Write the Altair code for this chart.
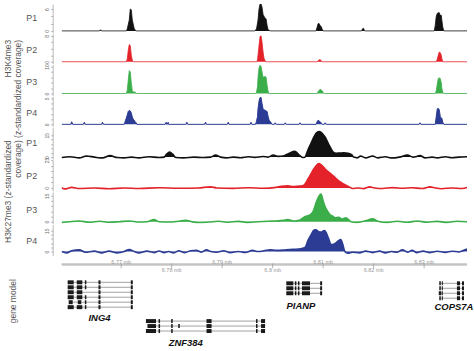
import altair as alt
import pandas as pd

FONT = "Liberation Sans"
X_DOMAIN = [6758.2, 6838.5]   # genomic window shown, in kb
PLOT_W = 408

# ---------------- coverage tracks: (position kb, z-standardized coverage) ----------------
K4_P1 = [(6758.2, 0), (6765.7, 0), (6765.9, 0.3), (6766.1, 0), (6771.0, 0), (6771.2, 0.5), (6771.6, 3),
         (6771.8, 6), (6772.0, 5.8), (6772.2, 3), (6772.6, 0.5), (6773.0, 0), (6796.4, 0), (6796.8, 0.5),
         (6797.1, 3), (6797.3, 6), (6797.5, 7.4), (6797.7, 7.4), (6797.9, 6.5), (6798.1, 4.5), (6798.3, 4),
         (6798.5, 3.5), (6798.7, 3.3), (6798.9, 1.5), (6799.1, 0.3), (6799.5, 0), (6808.6, 0), (6808.8, 1),
         (6809.0, 2), (6809.2, 2), (6809.4, 1.5), (6809.6, 1.2), (6809.8, 0.5), (6810.0, 0), (6817.6, 0),
         (6817.8, 0.6), (6818.0, 0.7), (6818.2, 0), (6832.0, 0), (6832.2, 1.5), (6832.4, 4), (6832.6, 4.8),
         (6832.8, 5), (6833.0, 5), (6833.2, 4.2), (6833.4, 4.3), (6833.5, 3), (6833.7, 1), (6833.9, 0),
         (6838.5, 0)]
K4_P2 = [(6758.2, 0), (6771.0, 0), (6771.2, 0.8), (6771.4, 3.5), (6771.6, 5.3), (6771.8, 5), (6772.0, 2),
         (6772.2, 0.5), (6772.4, 0), (6796.8, 0), (6797.0, 0.5), (6797.1, 2), (6797.3, 5), (6797.5, 7.8),
         (6797.7, 8), (6797.9, 6), (6798.1, 3), (6798.3, 1), (6798.5, 0.3), (6798.7, 0), (6808.8, 0),
         (6809.0, 0.3), (6809.2, 0.6), (6809.4, 0.6), (6809.6, 0.4), (6809.8, 0), (6832.4, 0), (6832.6, 0.8),
         (6832.8, 2), (6833.0, 3), (6833.2, 2.8), (6833.4, 2), (6833.5, 1), (6833.7, 0), (6838.5, 0)]
K4_P3 = [(6758.2, 0), (6771.0, 0), (6771.2, 1), (6771.4, 5), (6771.6, 8.5), (6771.8, 8), (6772.0, 4),
         (6772.2, 1), (6772.4, 0.6), (6772.8, 0.5), (6773.0, 0), (6796.6, 0), (6796.8, 0.5), (6797.0, 2.5),
         (6797.1, 6), (6797.3, 9.5), (6797.5, 10.5), (6797.7, 10), (6797.9, 8), (6798.1, 6), (6798.3, 6.2),
         (6798.5, 6.3), (6798.7, 6), (6798.9, 3), (6799.1, 0.8), (6799.3, 0), (6808.8, 0), (6809.0, 0.7),
         (6809.2, 1.2), (6809.4, 1.5), (6809.6, 1.4), (6809.8, 1), (6810.0, 0.4), (6810.2, 0), (6832.2, 0),
         (6832.4, 1), (6832.6, 3.5), (6832.8, 5.5), (6833.0, 5.9), (6833.2, 5.5), (6833.4, 4), (6833.5, 2),
         (6833.7, 0.5), (6833.9, 0), (6838.5, 0)]
K4_P4 = [(6758.2, 0), (6760.0, 0), (6760.2, 0.5), (6760.4, 0), (6762.5, 0), (6762.7, 0.4), (6762.9, 0),
         (6766.1, 0), (6766.3, 0.4), (6766.5, 0), (6770.6, 0), (6770.8, 0.6), (6771.0, 1.2), (6771.2, 1.8),
         (6771.4, 2.5), (6771.6, 2.7), (6771.8, 2.6), (6772.0, 2.2), (6772.2, 1.4), (6772.4, 1), (6772.6, 0.8),
         (6772.8, 0.4), (6773.0, 0.3), (6773.1, 0), (6778.7, 0), (6778.9, 0.4), (6779.1, 0), (6779.3, 0.4),
         (6779.4, 0), (6782.8, 0), (6783.0, 0.4), (6783.2, 0), (6786.5, 0), (6786.7, 0.4), (6786.9, 0),
         (6791.0, 0), (6791.2, 0.4), (6791.4, 0), (6795.5, 0), (6795.7, 0.4), (6795.9, 0), (6796.6, 0),
         (6796.8, 0.6), (6797.0, 1.5), (6797.1, 3), (6797.3, 4.5), (6797.5, 5.2), (6797.7, 5.2), (6797.9, 4),
         (6798.1, 3), (6798.3, 2.8), (6798.5, 2.7), (6798.7, 2.6), (6798.9, 2.5), (6799.1, 1.5), (6799.3, 0.8),
         (6799.5, 0.6), (6799.7, 0.3), (6799.9, 0), (6800.3, 0), (6800.5, 0.3), (6800.7, 0), (6802.3, 0),
         (6802.5, 0.3), (6802.7, 0), (6805.2, 0), (6805.4, 0.3), (6805.6, 0), (6808.6, 0), (6808.8, 0.5),
         (6809.0, 0.8), (6809.2, 0.7), (6809.4, 0.5), (6809.6, 0.3), (6809.8, 0), (6810.2, 0), (6810.4, 0.3),
         (6810.6, 0), (6829.0, 0), (6829.2, 0.3), (6829.4, 0), (6832.2, 0), (6832.4, 1.5), (6832.6, 3),
         (6832.8, 3.1), (6833.0, 2.8), (6833.2, 1.5), (6833.4, 1.2), (6833.5, 1.2), (6833.7, 0.4), (6833.9, 0),
         (6838.5, 0)]

K27_P1 = [(6758.2, -0.3), (6759.8, 0.3), (6761.7, -0.5), (6763.1, 0.8), (6764.7, 0), (6766.3, -0.6),
          (6767.8, 1.0), (6769.2, -0.3), (6770.6, -0.6), (6772.0, 0), (6773.5, -0.5), (6775.5, 0.3),
          (6777.5, -0.3), (6778.5, 0), (6779.0, 2), (6779.6, 3.4), (6780.2, 2), (6780.8, -0.3), (6782.4, -0.5),
          (6784.4, 0), (6786.3, -0.3), (6787.7, 0), (6788.7, 1.4), (6789.7, 0), (6790.9, -0.5), (6792.2, 0),
          (6793.6, -0.4), (6795.2, 0.3), (6796.4, -0.2), (6798.1, 0.4), (6799.1, 0), (6800.1, 1.4),
          (6801.1, 0.5), (6802.1, 0.8), (6803.2, 2.5), (6804.4, 4), (6805.4, 1), (6806.0, -0.3), (6806.4, 0),
          (6807.0, 5), (6807.6, 9.5), (6808.2, 14), (6808.6, 16.3), (6809.2, 17.5), (6809.6, 17), (6810.0, 15.5),
          (6810.4, 13.6), (6811.0, 9.5), (6811.4, 6.8), (6812.0, 3.4), (6812.6, 2.7), (6813.3, 2.8),
          (6814.1, 2.9), (6814.9, 2.6), (6815.7, 1.5), (6816.0, 0), (6816.8, -0.5), (6817.4, 0.8),
          (6818.4, -0.5), (6819.8, 0.8), (6820.8, -0.5), (6822.3, 0.2), (6823.7, -0.6), (6825.1, 0),
          (6826.7, 1.4), (6827.8, 0), (6829.2, 1), (6830.2, -0.5), (6831.6, 0), (6832.6, -0.6), (6834.2, 0.3),
          (6835.5, -0.4), (6836.9, 0), (6838.5, 0.2)]
K27_P2 = [(6758.2, 0.3), (6758.8, -1), (6760.2, 0.5), (6761.7, -0.5), (6764.7, 0), (6767.6, -0.8),
          (6770.6, 0), (6773.5, -0.5), (6777.5, 0.2), (6781.4, -0.3), (6785.3, 0), (6787.7, 1), (6788.9, 0),
          (6792.2, -0.4), (6795.2, 0.2), (6798.1, -0.3), (6800.7, 0.5), (6801.7, 1.5), (6803.0, 1.8),
          (6804.2, 1.2), (6805.4, 1.6), (6806.2, 2.5), (6807.0, 8), (6808.0, 16), (6808.6, 20), (6809.2, 22),
          (6809.8, 20), (6810.4, 17), (6811.4, 13), (6812.2, 10), (6812.9, 7), (6813.7, 4.5), (6814.5, 2.5),
          (6815.3, 0.5), (6815.8, -0.5), (6816.8, 0), (6818.0, -0.6), (6819.2, 1), (6820.2, 0), (6821.8, -0.5),
          (6823.7, 0.3), (6825.7, -0.3), (6827.6, 0.2), (6829.6, -0.5), (6831.2, 1), (6832.2, 0),
          (6833.5, -0.7), (6835.5, 0), (6837.5, -0.5), (6838.5, 0.3)]
K27_P3 = [(6758.2, -0.5), (6759.8, 0), (6761.7, 0.4), (6763.7, -0.3), (6765.7, 0.3), (6767.6, -0.3),
          (6769.6, 0), (6771.6, 0.4), (6773.5, -0.2), (6775.1, 0), (6776.5, 1.2), (6777.5, 0), (6779.4, -0.2),
          (6781.4, 0.3), (6782.8, 0.8), (6784.0, 0), (6785.3, -0.5), (6787.3, -0.2), (6789.3, 0.3),
          (6791.2, -0.3), (6793.2, 0.2), (6795.2, -0.4), (6797.1, 0), (6799.1, 0.3), (6801.1, 0.5),
          (6802.1, 0.8), (6803.0, 1.2), (6804.2, 0.4), (6805.4, 1), (6806.4, 2.9), (6807.4, 4), (6808.0, 5.8),
          (6808.6, 11), (6809.2, 15), (6809.6, 16), (6810.0, 12), (6810.4, 8.7), (6811.0, 5.5), (6811.4, 4),
          (6812.0, 3), (6812.4, 2.3), (6813.1, 2.5), (6813.7, 1.6), (6814.5, 2.3), (6815.1, 1), (6815.5, 0),
          (6816.8, -0.4), (6818.4, 0.5), (6819.8, 1.7), (6820.8, 0.3), (6822.7, -0.4), (6824.7, 0.3),
          (6826.7, -0.3), (6828.6, 0.4), (6830.6, -0.3), (6832.6, 0.2), (6834.5, -0.4), (6836.5, 0.3),
          (6838.5, 0)]
K27_P4 = [(6758.2, 0), (6759.2, -1), (6760.2, 0.5), (6761.7, 1.2), (6762.9, -0.5), (6764.7, 0.3),
          (6766.1, -1), (6767.6, 0.3), (6769.2, -1), (6770.6, 0), (6771.6, 1.5), (6772.6, 0), (6773.5, -1),
          (6775.1, 0.3), (6776.5, -0.8), (6777.5, 0.4), (6778.5, -0.8), (6779.4, 0), (6780.4, -1),
          (6781.4, 0.5), (6782.6, -0.8), (6783.8, 0.6), (6784.9, 0.8), (6785.9, -0.5), (6786.9, 1.3),
          (6787.7, 0), (6788.9, -0.5), (6790.3, 0.5), (6791.6, -0.8), (6793.2, 0), (6794.6, -0.7),
          (6796.0, 0.8), (6797.1, 0), (6798.3, 0.5), (6799.5, 1.3), (6800.7, 0.8), (6802.1, 1), (6803.4, 1.5),
          (6804.6, 1.6), (6805.6, 2), (6806.4, 2.9), (6807.0, 8), (6807.6, 12), (6808.2, 15.5), (6808.6, 15.7),
          (6809.0, 14.5), (6809.6, 14), (6810.2, 15), (6810.6, 13.6), (6811.0, 10), (6811.6, 5), (6812.2, 5.5),
          (6812.6, 6.4), (6813.1, 8), (6813.5, 8.6), (6813.9, 5), (6814.3, 0), (6814.9, -1.2), (6815.8, -0.5),
          (6817.2, -1), (6818.4, 0.3), (6819.8, -0.8), (6821.2, 0.3), (6822.3, -1), (6823.5, 0), (6824.7, -0.5),
          (6825.7, 1.3), (6826.7, -0.5), (6827.6, 0.8), (6828.6, -0.8), (6829.8, 0.3), (6831.0, -0.8),
          (6832.6, 0.2), (6834.2, -0.6), (6835.5, 0.2), (6836.9, -0.3), (6838.1, 1.2), (6838.5, 1.8)]

# ---------------- genomic axis ----------------
AXIS_TICKS_KB = [6770, 6780, 6790, 6800, 6810, 6820, 6830]
AXIS_LABELS = ["6.77 mb", "6.78 mb", "6.79 mb", "6.8 mb", "6.81 mb", "6.82 mb", "6.83 mb"]
AXIS_ROWS = ["above", "below", "above", "below", "above", "below", "above"]

# ---------------- gene model: transcripts (gene, lane, exons[(start, end) kb]) ----------------
TRANSCRIPTS = [
    ("ING4", 0, [(6759.4, 6760.6), (6761.2, 6762.3), (6762.8, 6763.1), (6765.5, 6765.9), (6771.9, 6772.3)]),
    ("ING4", 1, [(6759.4, 6760.6), (6761.2, 6762.3), (6762.8, 6763.1), (6765.5, 6765.9), (6771.9, 6772.3)]),
    ("ING4", 2, [(6759.4, 6760.6), (6761.2, 6762.3), (6765.5, 6765.9), (6771.9, 6772.3)]),
    ("ING4", 3, [(6759.4, 6760.6), (6761.2, 6762.3), (6762.8, 6763.1), (6765.5, 6765.9), (6771.9, 6772.3)]),
    ("ING4", 4, [(6759.6, 6760.4), (6761.4, 6762.1), (6762.8, 6763.1), (6765.5, 6765.9), (6771.9, 6772.3)]),
    ("ING4", 5, [(6759.4, 6760.6), (6761.2, 6762.3), (6762.8, 6763.1), (6765.5, 6765.9), (6771.9, 6772.3)]),
    ("ZNF384", 7.8, [(6774.9, 6776.9), (6777.4, 6777.7), (6779.9, 6780.2), (6786.9, 6787.9), (6796.7, 6797.0),
                     (6797.7, 6798.5)]),
    ("ZNF384", 8.8, [(6775.2, 6776.9), (6777.4, 6777.7), (6779.9, 6780.2), (6781.3, 6781.6), (6786.9, 6787.9),
                     (6796.7, 6797.0), (6797.7, 6798.5)]),
    ("ZNF384", 9.8, [(6774.9, 6776.9), (6777.4, 6777.7), (6779.9, 6780.2), (6786.9, 6787.9), (6796.7, 6797.0),
                     (6797.7, 6798.5)]),
    ("PIANP", 0.2, [(6802.7, 6804.1), (6804.4, 6804.7), (6805.0, 6805.3), (6805.8, 6807.4), (6809.4, 6809.8)]),
    ("PIANP", 1.2, [(6802.7, 6804.1), (6804.4, 6804.7), (6805.0, 6805.3), (6805.8, 6807.4), (6809.4, 6809.8)]),
    ("PIANP", 2.2, [(6802.7, 6804.1), (6804.4, 6804.7), (6805.0, 6805.3), (6805.8, 6807.4), (6809.4, 6809.8)]),
    ("COPS7A", 0.2, [(6833.0, 6833.3), (6833.5, 6833.7), (6836.5, 6837.1), (6837.5, 6837.9)]),
    ("COPS7A", 1.2, [(6833.0, 6833.3), (6833.5, 6833.7), (6836.5, 6837.1), (6837.5, 6837.9)]),
    ("COPS7A", 2.2, [(6832.9, 6833.4), (6833.5, 6833.7), (6836.5, 6837.1), (6837.5, 6837.9)]),
    ("COPS7A", 3.2, [(6833.0, 6833.3), (6833.5, 6833.7), (6836.5, 6837.1), (6837.5, 6837.9)]),
]
GENE_NAMES = ["ING4", "ZNF384", "PIANP", "COPS7A"]
GENE_LABEL_KB = [6765.7, 6782.8, 6805.6, 6835.9]
GENE_LABEL_LANE = [7.2, 12.2, 4.8, 5.0]

# ---------------- helpers ----------------
x_enc = alt.X("kb:Q", scale=alt.Scale(domain=X_DOMAIN, nice=False, zero=False), axis=None)


def text_layer(txt, x, y, **kw):
    style = dict(font=FONT, fontSize=9, color="#555555", align="center", baseline="middle")
    style.update(kw)
    return alt.Chart(pd.DataFrame({"t": [txt]})).mark_text(**style).encode(
        text="t:N", x=alt.value(x), y=alt.value(y))


def track(points, color, domain, ticks, top, height, label, label_y, interp, sw, extras=()):
    df = pd.DataFrame(points, columns=["kb", "z"])
    y_enc = alt.Y("z:Q", scale=alt.Scale(domain=domain, nice=False, zero=False),
                  axis=alt.Axis(values=ticks,
                                labelExpr=f"(datum.value == 0 || datum.value == {top}) ? datum.label : ''",
                                labelAngle=270, labelFontSize=5, labelColor="#666666", labelFont=FONT,
                                tickSize=2, tickWidth=0.6, tickColor="#888888", domainColor="#888888",
                                domainWidth=0.6, offset=9, title=None, grid=False, labelPadding=1))
    base = alt.Chart(df)
    area = base.mark_area(color=color, interpolate=interp, clip=True, opacity=1).encode(
        x=x_enc, y=y_enc, y2=alt.datum(0))
    line = base.mark_line(color=color, strokeWidth=sw, interpolate=interp, clip=True).encode(x=x_enc, y=y_enc)
    layers = [area, line, text_layer(label, -30, label_y)] + list(extras)
    return alt.layer(*layers).properties(width=PLOT_W, height=height)


BLACK, RED, GREEN, BLUE = "#111111", "#e3222a", "#3bae4a", "#2c3c94"

anchor = alt.Chart(pd.DataFrame({"a": [0]})).mark_rule(color="white", strokeWidth=1).encode(
    x=alt.value(-61.5), y=alt.value(-2.5), y2=alt.value(0))
k4_title = text_layer("H3K4me3\n(z-standardized coverage)", -58, 36, angle=270, align="right",
                      baseline="top", fontSize=8.5, lineBreak="\n", lineHeight=10)
k27_title = text_layer("H3K27me3 (z-standardized\ncoverage)", -58, 13, angle=270, align="right",
                       baseline="top", fontSize=8.5, lineBreak="\n", lineHeight=10)

panels = [
    track(K4_P1, BLACK, [-0.55, 7.36], [0, 2, 4, 6], 6, 29, "P1", 14, "linear", 0.8, [anchor, k4_title]),
    track(K4_P2, RED, [-0.6, 8.6], [0, 2, 4, 6, 8], 8, 30, "P2", 16, "linear", 0.8),
    track(K4_P3, GREEN, [-0.74, 10.7], [0, 2, 4, 6, 8, 10], 10, 31, "P3", 17, "linear", 0.8),
    track(K4_P4, BLUE, [-0.38, 5.38], [0, 1, 2, 3, 4, 5], 5, 30, "P4", 17, "linear", 1.0),
    track(K27_P1, BLACK, [-1.36, 20.45], [0, 3, 6, 9, 12, 15], 15, 32, "P1", 16, "monotone", 1.6, [k27_title]),
    track(K27_P2, RED, [-2.68, 25], [0, 5, 10, 15, 20, 25], 25, 31, "P2", 16, "monotone", 1.6),
    track(K27_P3, GREEN, [-1.15, 17.3], [0, 3, 6, 9, 12, 15], 15, 32, "P3", 18, "monotone", 1.6),
    track(K27_P4, BLUE, [-2.86, 19.3], [0, 3, 6, 9, 12, 15], 15, 31, "P4", 16, "monotone", 1.6),
]

# genomic coordinate axis panel
axis_df = pd.DataFrame({"kb": AXIS_TICKS_KB, "label": AXIS_LABELS, "row": AXIS_ROWS})
axis_line = alt.Chart(pd.DataFrame({"a": [0]})).mark_rule(color="#c4c4c4", strokeWidth=2.5).encode(
    x=alt.value(0), x2=alt.value(PLOT_W), y=alt.value(8))
axis_ticks = alt.Chart(axis_df).mark_rule(color="#999999", strokeWidth=0.7).encode(
    x=x_enc, y=alt.value(7), y2=alt.value(12))
axis_text = alt.Chart(axis_df).mark_text(font=FONT, fontSize=5.5, color="#9a9a9a", baseline="middle").encode(
    x=x_enc, text="label:N",
    y=alt.Y("row:N", scale=alt.Scale(domain=["above", "below"], range=[2, 17]), axis=None))
axis_panel = alt.layer(axis_line, axis_ticks, axis_text).properties(width=PLOT_W, height=20)

# gene model panel
exon_rows, intron_rows = [], []
for gene, lane, exons in TRANSCRIPTS:
    for s, e in exons:
        exon_rows.append({"gene": gene, "kb": s, "kb2": e, "lo": lane - 0.4, "hi": lane + 0.4})
    intron_rows.append({"gene": gene, "kb": exons[0][1], "kb2": exons[-1][0], "lane": lane})
exon_df = pd.DataFrame(exon_rows)
intron_df = pd.DataFrame(intron_rows)
glabel_df = pd.DataFrame({"name": GENE_NAMES, "kb": GENE_LABEL_KB, "lane": GENE_LABEL_LANE})
lane_scale = alt.Scale(domain=[-1, 13.6], reverse=True, nice=False, zero=False)

introns = alt.Chart(intron_df).mark_rule(color="#8a8a8a", strokeWidth=0.8).encode(
    x=x_enc, x2="kb2:Q", y=alt.Y("lane:Q", scale=lane_scale, axis=None))
exons_m = alt.Chart(exon_df).mark_rect(color="#1a1a1a").encode(
    x=x_enc, x2="kb2:Q", y=alt.Y("lo:Q", scale=lane_scale, axis=None), y2="hi:Q")
glabels = alt.Chart(glabel_df).mark_text(font=FONT, fontSize=9.5, fontWeight="bold", fontStyle="italic",
                                         color="#111111", baseline="middle").encode(
    x=x_enc, y=alt.Y("lane:Q", scale=lane_scale, axis=None), text="name:N")
gm_label = text_layer("gene model", -49, 24, angle=270, fontSize=8.5)
gene_panel = alt.layer(introns, exons_m, glabels, gm_label).properties(width=PLOT_W, height=73)

chart = alt.vconcat(*panels, axis_panel, gene_panel, spacing=1, bounds="flush").properties(
    padding=0).configure_view(strokeWidth=0)

chart.save("out.html", embed_options={"renderer": "svg", "actions": False})
